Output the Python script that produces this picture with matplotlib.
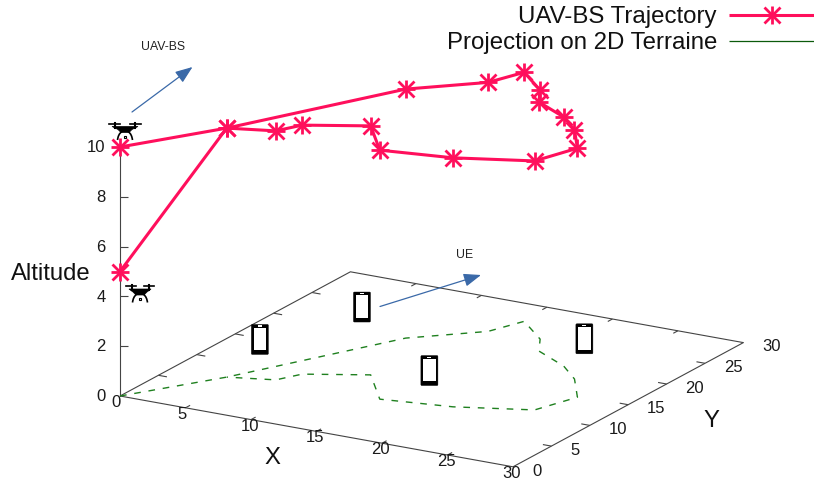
import matplotlib
matplotlib.use('Agg')
import matplotlib.pyplot as plt
import numpy as np
from matplotlib.patches import FancyBboxPatch, PathPatch, Polygon, Rectangle
from matplotlib.path import Path

plt.rcParams['font.family'] = ['Liberation Sans', 'DejaVu Sans']

# trajectory of the UAV (x, y, altitude)
traj_x = [0, 4.1, 10.2, 14.2, 15.2, 18, 19.2, 22.2, 24.2, 26.3, 25.2, 20.2, 15.2, 12.1, 8.1, 7.2, 4.1, 0]
traj_y = [0, 6.9, 19.8, 23.7, 26.7, 24, 21.8, 19.9, 17.9, 14.7, 11, 8.9, 7.9, 12, 9.9, 8, 6.9, 0]
traj_z = [5, 10, 10, 10, 10, 10, 10, 10, 10, 10, 10, 10, 10, 10, 10, 10, 10, 10]

# user positions on the ground
ue_x = [2, 4.4, 15, 20.5]
ue_y = [14.8, 24, 14.7, 25.5]

xy_ticks = [0, 5, 10, 15, 20, 25, 30]
z_ticks = [0, 2, 4, 6, 8, 10]

RED = '#ff0f5c'
GREEN = '#1f801f'
BLUE = '#3a69a8'
AXIS = '#444444'
TEXT = '#1a1a1a'


def project(x, y, z=0):
    # same fixed view as the gnuplot splot, everything in figure pixels
    x, y, z = np.asarray(x, float), np.asarray(y, float), np.asarray(z, float)
    return 120 + 13.1 * x + 7.68 * y, 396 + 2.36 * x - 4.14 * y - 24.9 * z


def line3d(ax, x, y, z=(0, 0), **kw):
    px, py = project(x, y, z)
    return ax.plot(px, py, **kw)


def draw_axes(ax):
    style = dict(color=AXIS, lw=0.8, solid_capstyle='butt')
    line3d(ax, [0, 30, 30, 0, 0], [0, 0, 30, 30, 0], [0] * 5, **style)
    line3d(ax, [0, 0], [0, 0], [0, 10], **style)

    for t in xy_ticks[1:-1]:
        line3d(ax, [t, t], [0, 0.6], **style)
        line3d(ax, [t, t], [30, 29.4], **style)
        line3d(ax, [0, 0.65], [t, t], **style)
        line3d(ax, [30, 29.35], [t, t], **style)
    for t in z_ticks[1:]:
        px, py = project(0, 0, t)
        ax.plot([px, px + 8], [py, py], **style)

    for t in xy_ticks:
        px, py = project(t, 0)
        ax.text(px - (3.5 if t < 10 else 1.5), py + 6.5, str(t), fontsize=12, ha='center', va='center', color=TEXT)
        px, py = project(30, t)
        ax.text(px + 19, py + 4.2, str(t), fontsize=12, ha='left', va='center', color=TEXT)
    for t in z_ticks:
        px, py = project(0, 0, t)
        ax.text(105.5, py + 0.7, str(t), fontsize=12, ha='right', va='center', color=TEXT)

    ax.text(11, 274, 'Altitude', fontsize=17.2, ha='left', va='center', color='#111111')
    ax.text(272, 458, 'X', fontsize=17.2, ha='center', va='center', color='#111111')
    ax.text(711, 421, 'Y', fontsize=17.2, ha='center', va='center', color='#111111')


def star_markers(ax, px, py):
    ax.plot(px, py, ls='none', marker='+', ms=12.5, mew=2, color=RED, zorder=5)
    ax.plot(px, py, ls='none', marker='x', ms=11.5, mew=2, color=RED, zorder=5)


def draw_phone(ax, cx, cy):
    ax.add_patch(FancyBboxPatch((cx - 7.5, cy - 14), 15, 28, boxstyle='round,pad=1', fc='black', ec='black', lw=0.3, zorder=3))
    ax.add_patch(Rectangle((cx - 6.3, cy - 11.7), 12.6, 22.5, fc='white', ec='none', zorder=4))
    ax.add_patch(Rectangle((cx - 2, cy - 14), 4, 1.1, fc='white', ec='none', zorder=4))


def draw_drone(ax, cx, top, w=1.0):
    for side in (-1, 1):
        ax.plot([cx + side * 5 * w, cx + side * 16 * w], [top, top], color='black', lw=1.2, zorder=3)
        ax.plot([cx + side * 10 * w, cx + side * 10 * w], [top - 1, top + 4], color='black', lw=1.5, zorder=3)
        leg = Path([(cx + side * 3, top + 8), (cx + side * 6, top + 10), (cx + side * 7, top + 13), (cx + side * 7.5, top + 16.5)],
                   [Path.MOVETO, Path.CURVE4, Path.CURVE4, Path.CURVE4])
        ax.add_patch(PathPatch(leg, fc='none', ec='black', lw=1.2, zorder=3))
    body = [(cx - 13 * w, top + 3), (cx + 13 * w, top + 3), (cx + 7, top + 6), (cx + 4, top + 9), (cx - 4, top + 9), (cx - 7, top + 6)]
    ax.add_patch(Polygon(body, closed=True, fc='black', ec='black', lw=0.5, zorder=3))
    ax.add_patch(Rectangle((cx - 1.2, top + 12), 2.4, 2, fc='white', ec='black', lw=0.8, zorder=3))


def draw_arrow(ax, start, tip):
    ax.annotate('', xy=tip, xytext=start,
                arrowprops=dict(arrowstyle='-|>,head_length=1.05,head_width=0.4', color=BLUE, lw=0.9,
                                shrinkA=0, shrinkB=0, mutation_scale=10), zorder=6)


def draw_legend(ax):
    ax.text(717, 17, 'UAV-BS Trajectory', fontsize=17.3, ha='right', va='center', color='#111111')
    ax.text(717, 43.5, 'Projection on 2D Terraine', fontsize=17.3, ha='right', va='center', color='#111111')
    ax.plot([729, 814], [15, 15], color=RED, lw=2.2, solid_capstyle='butt')
    star_markers(ax, [772], [15])
    ax.plot([729, 814], [41, 41], color='#0b5a0b', lw=0.9, solid_capstyle='butt')


def plot_chart():
    fig = plt.figure(figsize=(8.14, 4.83), dpi=100)
    ax = fig.add_axes([0, 0, 1, 1])
    ax.set_xlim(0, 814)
    ax.set_ylim(483, 0)
    ax.axis('off')

    draw_axes(ax)

    # last point is the way back over the first leg, skip it so the dashes stay open
    line3d(ax, traj_x[:-1], traj_y[:-1], [0] * (len(traj_x) - 1), color=GREEN, lw=1.0, ls=(0, (4.8, 5.6)), zorder=2)
    px, py = project(traj_x, traj_y, traj_z)
    ax.plot(px, py, color=RED, lw=2.2, solid_joinstyle='round', zorder=5)
    star_markers(ax, px, py)

    for ux, uy in zip(ue_x, ue_y):
        cx, cy = project(ux, uy)
        draw_phone(ax, cx, cy)

    draw_drone(ax, 125, 123.5)
    draw_drone(ax, 140, 286, w=0.85)

    draw_arrow(ax, (132, 112), (192.5, 67))
    draw_arrow(ax, (380, 306.5), (481, 275))
    ax.text(163, 47.5, 'UAV-BS', fontsize=8.8, ha='center', va='center', color='#222222')
    ax.text(465, 254.5, 'UE', fontsize=8.8, ha='center', va='center', color='#222222')

    draw_legend(ax)
    fig.savefig('out.png', dpi=100)


if __name__ == "__main__":
    plot_chart()
